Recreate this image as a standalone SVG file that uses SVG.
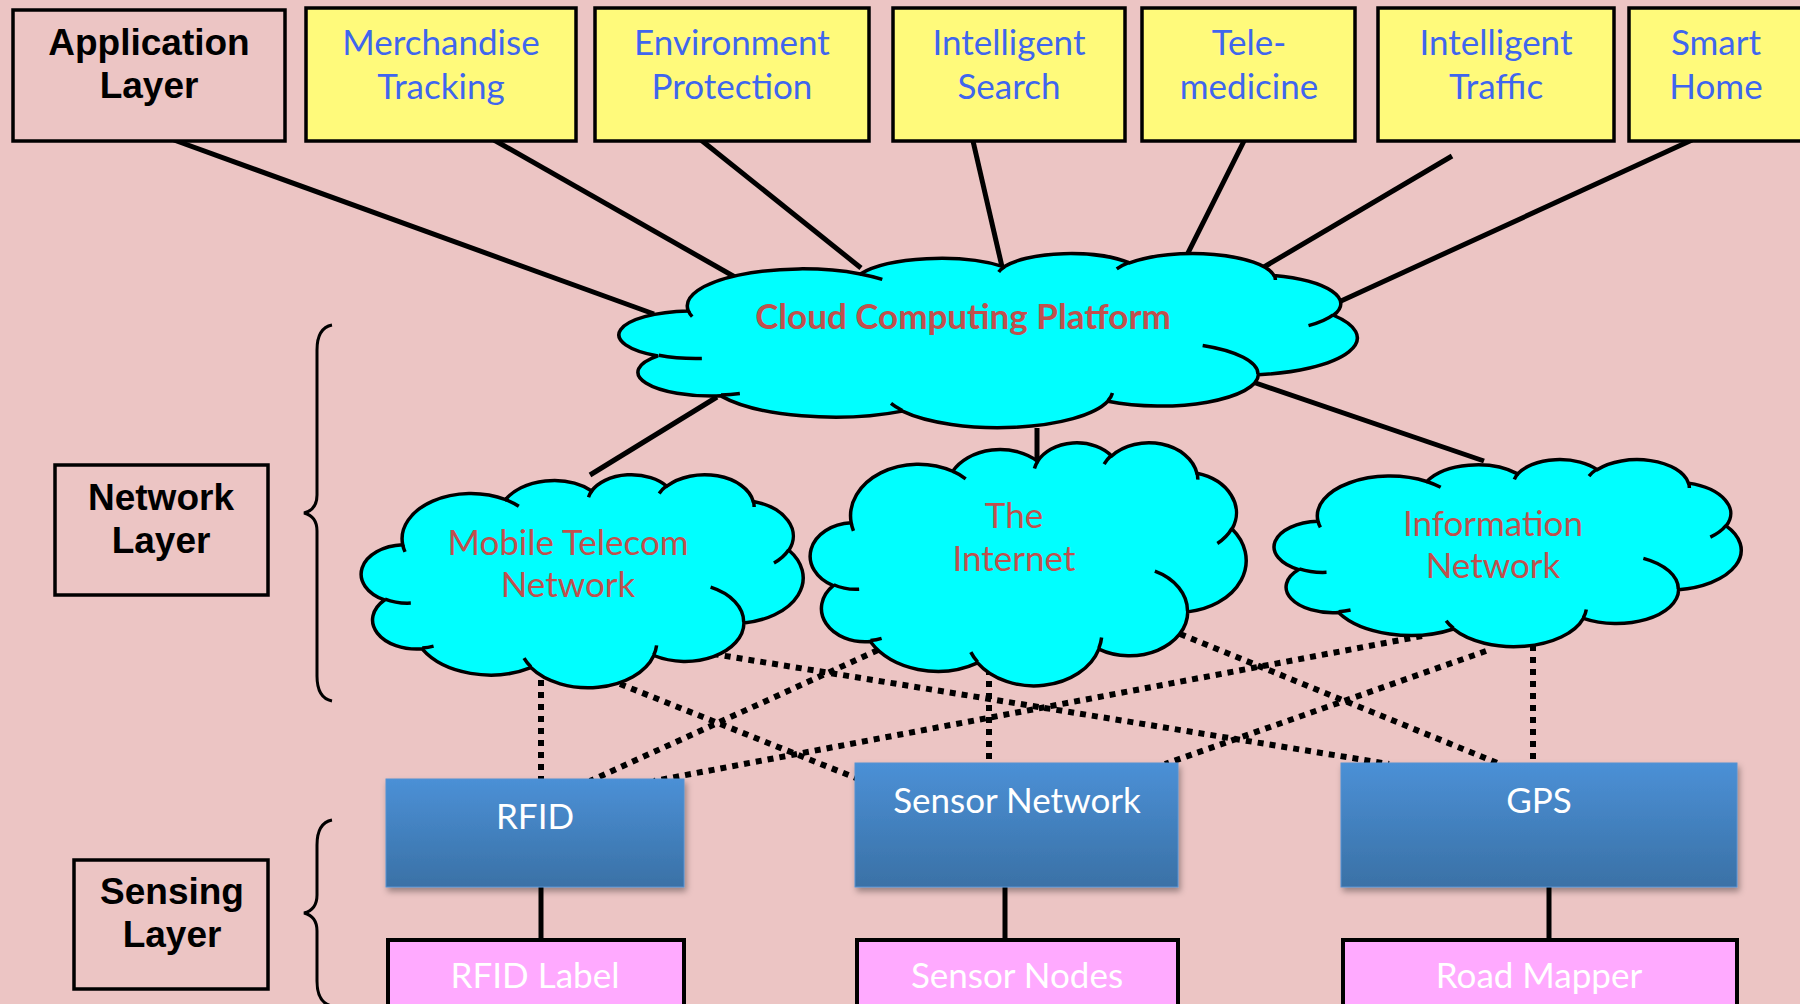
<svg xmlns="http://www.w3.org/2000/svg" xmlns:xlink="http://www.w3.org/1999/xlink" width="1800" height="1004" viewBox="0 0 1800 1004">
<defs>
<style>
.lbl{fill:#ECC5C4;stroke:#000;stroke-width:3.5}
.app{fill:#FFFA7B;stroke:#000;stroke-width:3.5}
.cloud{fill:#00FFFF;stroke:#000;stroke-width:3.5}
.crease{fill:none;stroke:#000;stroke-width:3.5}
.blue{fill:url(#gb);stroke:#5592D2;stroke-width:1;filter:url(#sh)}
.pink{fill:#FFAAFF;stroke:#000;stroke-width:4}
.solid{stroke:#000;stroke-width:5;fill:none}
.dot{stroke:#000;stroke-width:6;stroke-dasharray:6 6;fill:none}
.brace{fill:none;stroke:#000;stroke-width:3}
.hd{font-family:"Liberation Sans",Arial,sans-serif;font-weight:bold;font-size:37px;fill:#000;text-anchor:middle}
.bt{font-family:Lato,"Open Sans",sans-serif;font-size:35px;fill:#3F66EE;text-anchor:middle}
.ct{font-family:Lato,"Open Sans",sans-serif;font-size:35px;fill:#C0504D;text-anchor:middle}
.ctb{font-family:Lato,"Open Sans",sans-serif;font-size:35px;font-weight:bold;fill:#C0504D;text-anchor:middle}
.wt{font-family:Lato,"Open Sans",sans-serif;font-size:35px;fill:#FFFFFF;text-anchor:middle}
</style>
<linearGradient id="gb" x1="0" y1="0" x2="0" y2="1">
<stop offset="0" stop-color="#4B90D6"/>
<stop offset="1" stop-color="#3A71A6"/>
</linearGradient>
<filter id="sh" x="-10%" y="-10%" width="125%" height="140%">
<feDropShadow dx="2" dy="4" stdDeviation="3" flood-color="#000" flood-opacity="0.35"/>
</filter>
<path id="cloudO" vector-effect="non-scaling-stroke" d="M39,143.7 A67.53 91.9 0 0 1 140.05,52.01 A53.33 72.67 0 0 1 224.55,34.31 A43.65 59.45 0 0 1 298.32,24.78 A48.57 65.95 0 0 1 383.18,55.71 A53.33 72.73 0 0 1 418.18,154.55 A67.75 92.2 0 0 1 374.04,301.99 A57.85 78.67 0 0 1 285.55,368.09 A67.52 92.15 0 0 1 164.8,392.63 A77.2 105.43 0 0 1 58.04,354.69 A43.6 59.18 0 0 1 21.13,255.47 A43.45 59.45 0 0 1 39,143.7 Z"/>
<path id="cloudC" vector-effect="non-scaling-stroke" d="M46.93,261.77 A43.45 59.45 0 0 1 21.6,253.8 M69.28,348.99 A43.6 59.18 0 0 1 58.19,352.8 M164.78,390.9 A67.52 92.15 0 0 1 158.1,373.48 M288.27,347.51 A67.52 92.15 0 0 1 285.6,366.61 M341.29,229.54 A57.85 78.67 0 0 1 373.8,300.89 M417.98,153.54 A53.33 72.73 0 0 1 403.51,180.29 M383.24,54.26 A48.57 65.95 0 0 1 384.01,66.91 M290.78,39.52 A48.57 65.95 0 0 1 298.19,23.4 M221.41,47.2 A43.65 59.45 0 0 1 225.01,33.31 M140,51.92 A67.53 91.9 0 0 1 152.99,65.4 M41.27,157.89 A67.53 91.9 0 0 1 39,143.7"/>
</defs>
<rect x="0" y="0" width="1800" height="1004" fill="#ECC5C4"/>

<g id="braces">
<path class="brace" d="M332,325 C322,327 317,335 317,350 L317,495 C317,505 312,511 304,513 C312,515 317,521 317,531 L317,676 C317,691 322,699 332,701"/>
<path class="brace" d="M332,820 C322,822 317,830 317,845 L317,895 C317,905 312,911 304,913 C312,915 317,921 317,931 L317,981 C317,996 322,1004 332,1006"/>
</g>

<g id="connectors">
<line class="solid" x1="174" y1="140" x2="654" y2="314"/>
<line class="solid" x1="494" y1="140" x2="749" y2="285"/>
<line class="solid" x1="701" y1="140" x2="861" y2="268"/>
<line class="solid" x1="973" y1="141" x2="1003" y2="271"/>
<line class="solid" x1="1244" y1="141" x2="1181" y2="267"/>
<line class="solid" x1="1452" y1="156" x2="1264" y2="267"/>
<line class="solid" x1="1692" y1="140" x2="1341" y2="301"/>
<line class="solid" x1="717" y1="397" x2="590" y2="475"/>
<line class="solid" x1="1037" y1="428" x2="1037" y2="467"/>
<line class="solid" x1="1247" y1="380" x2="1484" y2="461"/>
<line class="dot" x1="541" y1="668" x2="541" y2="780"/>
<line class="dot" x1="620" y1="684" x2="861" y2="780"/>
<line class="dot" x1="701" y1="652" x2="1389" y2="764"/>
<line class="dot" x1="878" y1="650" x2="590" y2="781"/>
<line class="dot" x1="1422" y1="636" x2="654" y2="781"/>
<line class="dot" x1="989" y1="669" x2="989" y2="763"/>
<line class="dot" x1="1180" y1="634" x2="1500" y2="764"/>
<line class="dot" x1="1486" y1="651" x2="1165" y2="764"/>
<line class="dot" x1="1533" y1="621" x2="1533" y2="763"/>
<line class="solid" x1="541" y1="887" x2="541" y2="940"/>
<line class="solid" x1="1005" y1="887" x2="1005" y2="940"/>
<line class="solid" x1="1549" y1="887" x2="1549" y2="940"/>
</g>

<g id="application-layer">
<rect class="lbl" x="13" y="10" width="272" height="131"/>
<text class="hd" x="149" y="55">Application</text>
<text class="hd" x="149" y="98">Layer</text>
</g>
<g id="merchandise-tracking">
<rect class="app" x="306" y="8" width="270" height="133"/>
<text class="bt" x="441" y="55">Merchandise</text>
<text class="bt" x="441" y="99">Tracking</text>
</g>
<g id="environment-protection">
<rect class="app" x="595" y="8" width="274" height="133"/>
<text class="bt" x="732" y="55">Environment</text>
<text class="bt" x="732" y="99">Protection</text>
</g>
<g id="intelligent-search">
<rect class="app" x="893" y="8" width="232" height="133"/>
<text class="bt" x="1009" y="55">Intelligent</text>
<text class="bt" x="1009" y="99">Search</text>
</g>
<g id="telemedicine">
<rect class="app" x="1142" y="8" width="213" height="133"/>
<text class="bt" x="1249" y="55">Tele-</text>
<text class="bt" x="1249" y="99">medicine</text>
</g>
<g id="intelligent-traffic">
<rect class="app" x="1378" y="8" width="236" height="133"/>
<text class="bt" x="1496" y="55">Intelligent</text>
<text class="bt" x="1496" y="99">Traffic</text>
</g>
<g id="smart-home">
<rect class="app" x="1629" y="8" width="200" height="133"/>
<text class="bt" x="1716" y="55">Smart</text>
<text class="bt" x="1716" y="99">Home</text>
</g>

<g id="cloud-computing-platform">
<g transform="translate(622,253) scale(1.7014,0.4028)">
<use xlink:href="#cloudO" class="cloud"/>
<use xlink:href="#cloudC" class="crease"/>
</g>
<text class="ctb" x="963" y="329">Cloud Computing Platform</text>
</g>

<g id="network-layer">
<rect class="lbl" x="55" y="465" width="213" height="130"/>
<text class="hd" x="161" y="510">Network</text>
<text class="hd" x="161" y="553">Layer</text>
</g>

<g id="mobile-telecom-network">
<g transform="translate(363,474) scale(1.0185,0.4931)">
<use xlink:href="#cloudO" class="cloud"/>
<use xlink:href="#cloudC" class="crease"/>
</g>
<text class="ct" x="568" y="555">Mobile Telecom</text>
<text class="ct" x="568" y="597">Network</text>
</g>

<g id="the-internet">
<g transform="translate(812,442) scale(1.0046,0.5625)">
<use xlink:href="#cloudO" class="cloud"/>
<use xlink:href="#cloudC" class="crease"/>
</g>
<text class="ct" x="1014" y="528">The</text>
<text class="ct" x="1014" y="571">Internet</text>
</g>

<g id="information-network">
<g transform="translate(1276,459) scale(1.0764,0.4329)">
<use xlink:href="#cloudO" class="cloud"/>
<use xlink:href="#cloudC" class="crease"/>
</g>
<text class="ct" x="1493" y="536">Information</text>
<text class="ct" x="1493" y="578">Network</text>
</g>

<g id="rfid">
<rect class="blue" x="386" y="779" width="298" height="108"/>
<text class="wt" x="535" y="829">RFID</text>
</g>
<g id="sensor-network">
<rect class="blue" x="855" y="763" width="323" height="124"/>
<text class="wt" x="1017" y="813">Sensor Network</text>
</g>
<g id="gps">
<rect class="blue" x="1341" y="763" width="396" height="124"/>
<text class="wt" x="1539" y="813">GPS</text>
</g>

<g id="sensing-layer">
<rect class="lbl" x="74" y="860" width="194" height="129"/>
<text class="hd" x="172" y="904">Sensing</text>
<text class="hd" x="172" y="947">Layer</text>
</g>

<g id="rfid-label">
<rect class="pink" x="388" y="940" width="296" height="80"/>
<text class="wt" x="535" y="988">RFID Label</text>
</g>
<g id="sensor-nodes">
<rect class="pink" x="857" y="940" width="321" height="80"/>
<text class="wt" x="1017" y="988">Sensor Nodes</text>
</g>
<g id="road-mapper">
<rect class="pink" x="1343" y="940" width="394" height="80"/>
<text class="wt" x="1539" y="988">Road Mapper</text>
</g>
</svg>
